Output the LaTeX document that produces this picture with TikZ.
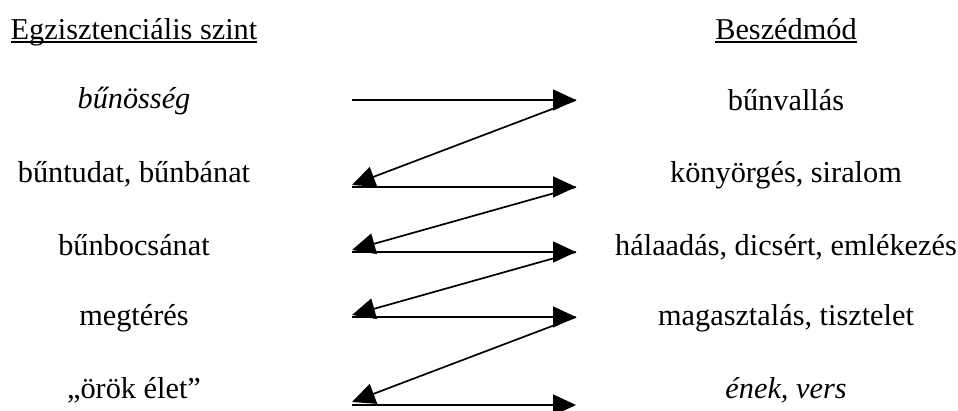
\documentclass[tikz,border=0pt]{standalone}
\usepackage{fontspec}
\setmainfont{Liberation Serif}
\usetikzlibrary{arrows.meta}
\tikzset{
  lbl/.style={inner sep=0pt, anchor=base, font=\fontsize{30.3}{36}\selectfont},
  conn/.style={line width=1.7pt, -{Triangle[length=23pt,width=21pt]}},
  uline/.style={line width=1.3pt}
}
\begin{document}
\begin{tikzpicture}[x=1pt,y=-1pt]
\useasboundingbox (0,0) rectangle (958,410);
% headers
\node[lbl] (h1) at (134,39) {Egzisztenciális szint};
\node[lbl] (h2) at (786,39) {Beszédmód};
\draw[uline] ([yshift=-3pt]h1.base west) -- ([yshift=-3pt]h1.base east);
\draw[uline] ([yshift=-3pt]h2.base west) -- ([yshift=-3pt]h2.base east);
% left column
\node[lbl] (a1) at (134,108) {\itshape bűnösség};
\node[lbl] (a2) at (134,182) {bűntudat, bűnbánat};
\node[lbl] (a3) at (134,255) {bűnbocsánat};
\node[lbl] (a4) at (134,325) {megtérés};
\node[lbl] (a5) at (134,398) {„örök élet”};
% right column
\node[lbl] (b1) at (786,110) {bűnvallás};
\node[lbl] (b2) at (786,182) {könyörgés, siralom};
\node[lbl] (b3) at (786,255) {hálaadás, dicsért, emlékezés};
\node[lbl] (b4) at (786,325) {magasztalás, tisztelet};
\node[lbl] (b5) at (786,398) {\itshape ének, vers};
% arrow end points
\coordinate (L1) at (352,100); \coordinate (R1) at (576,100);
\coordinate (L2) at (352,187); \coordinate (R2) at (576,187);
\coordinate (L3) at (352,252); \coordinate (R3) at (576,252);
\coordinate (L4) at (352,317); \coordinate (R4) at (576,317);
\coordinate (L5) at (352,405); \coordinate (R5) at (576,405);
\coordinate (D2) at (352,185);
\coordinate (D3) at (352,250);
\coordinate (D4) at (352,315);
\coordinate (D5) at (352,402);
% horizontal arrows
\draw[conn] (L1) -- (R1);
\draw[conn] (L2) -- (R2);
\draw[conn] (L3) -- (R3);
\draw[conn] (L4) -- (R4);
\draw[conn] (L5) -- (R5);
% diagonal arrows
\draw[conn] (R1) -- (D2);
\draw[conn] (R2) -- (D3);
\draw[conn] (R3) -- (D4);
\draw[conn] (R4) -- (D5);
\end{tikzpicture}
\end{document}
